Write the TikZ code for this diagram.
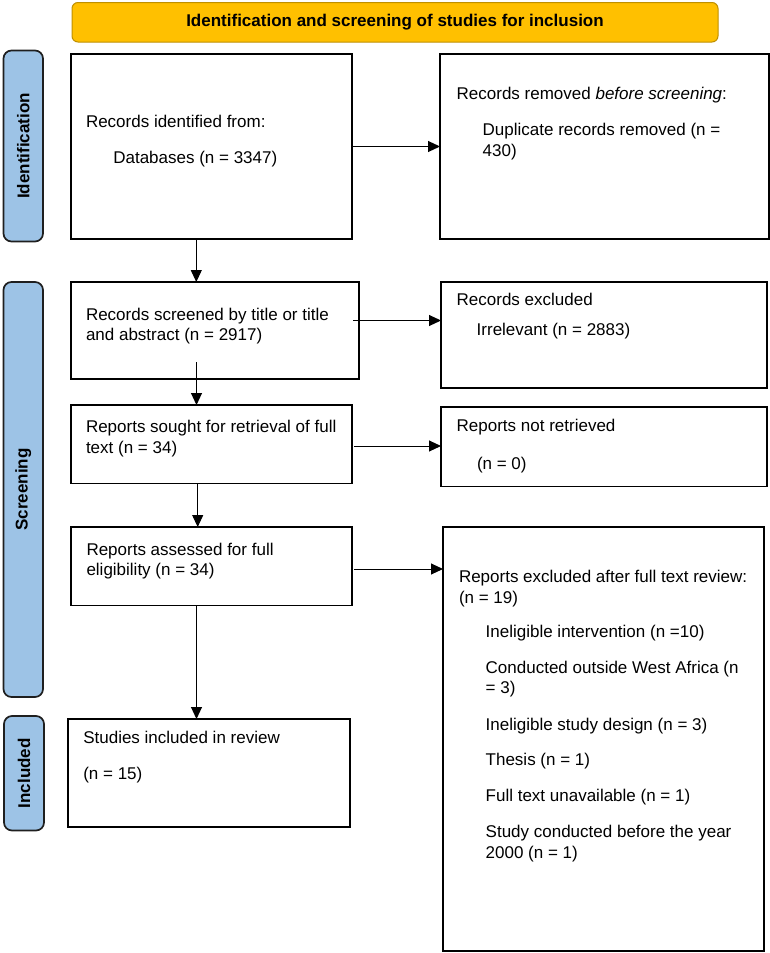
\documentclass[tikz,border=0pt]{standalone}
\usepackage{fontspec}
\setmainfont{Liberation Sans}
\usetikzlibrary{arrows.meta,calc}
\definecolor{bannerfill}{HTML}{FFC000}
\definecolor{bannerdraw}{HTML}{BF9000}
\definecolor{labelfill}{HTML}{9DC3E6}
\definecolor{labeldraw}{HTML}{1F1F1F}
\begin{document}
\begin{tikzpicture}[x=1pt,y=-1pt,
  every node/.style={font=\fontsize{17}{21}\selectfont},
  box/.style={draw=black,line width=1.6pt,fill=white,inner sep=0pt,outer sep=0pt},
  banner/.style={draw=bannerdraw,line width=1pt,fill=bannerfill,rounded corners=6pt,inner sep=0pt,outer sep=0pt,font=\fontsize{17}{21}\selectfont\bfseries},
  phase/.style={draw=labeldraw,line width=1.7pt,fill=labelfill,rounded corners=8pt,inner sep=0pt,outer sep=0pt},
  phasetext/.style={rotate=90,font=\fontsize{17}{21}\selectfont\bfseries,inner sep=0pt},
  txt/.style={anchor=base west,inner sep=0pt,outer sep=0pt},
  arr/.style={draw=black,line width=1pt,-{Triangle[length=12pt,width=11pt]}},
  ]
\useasboundingbox (0,0) rectangle (770,953);

% banner
\node[banner,minimum width=646pt,minimum height=39.5pt] (ban) at (395,22.25) {Identification and screening of studies for inclusion};

% phase labels
\node[phase,minimum width=39.5pt,minimum height=191pt] (idl) at (23.25,146) {};
\node[phasetext] (idt) at (idl.center) {Identification};
\node[phase,minimum width=39.5pt,minimum height=415pt] (scl) at (23.25,489.5) {};
\node[phasetext] (sct) at (scl.center) {Screening};
\node[phase,minimum width=40pt,minimum height=114.5pt] (inl) at (24,773.25) {};
\node[phasetext] (int) at (inl.center) {Included};

% left boxes
\node[box,minimum width=281pt,minimum height=185pt] (b1) at (211.5,146.5) {};
\node[box,minimum width=288pt,minimum height=97pt] (b2) at (215,330.5) {};
\node[box,minimum width=281pt,minimum height=78.5pt] (b3) at (211.5,444.25) {};
\node[box,minimum width=281pt,minimum height=78.5pt] (b4) at (211.5,566.25) {};
\node[box,minimum width=282pt,minimum height=108pt] (b5) at (209,773) {};

% right boxes
\node[box,minimum width=329pt,minimum height=185pt] (r1) at (604.5,146.5) {};
\node[box,minimum width=326pt,minimum height=106pt] (r2) at (604,335) {};
\node[box,minimum width=326pt,minimum height=79.5pt] (r3) at (604,446.75) {};
\node[box,minimum width=321pt,minimum height=424pt] (r4) at (603.5,739) {};

% texts
\node[txt] (t1a) at (86,127.3) {Records identified from:};
\node[txt] (t1b) at (113.3,163.3) {Databases (n = 3347)};

\node[txt] (u1a) at (456.7,99.3) {Records removed \textit{before screening}:};
\node[txt] (u1b) at (482.7,135) {Duplicate records removed (n =};
\node[txt] (u1c) at (482.7,156.7) {430)};

\node[txt] (t2a) at (86,320) {Records screened by title or title};
\node[txt] (t2b) at (86,340) {and abstract (n = 2917)};

\node[txt] (u2a) at (456.7,305.7) {Records excluded};
\node[txt] (u2b) at (476.7,335) {Irrelevant (n = 2883)};

\node[txt] (t3a) at (86,432.7) {Reports sought for retrieval of full};
\node[txt] (t3b) at (86,453) {text (n = 34)};

\node[txt] (u3a) at (456.7,431.7) {Reports not retrieved};
\node[txt] (u3b) at (477,469) {(n = 0)};

\node[txt] (t4a) at (86.5,555) {Reports assessed for full};
\node[txt] (t4b) at (86.5,575.7) {eligibility (n = 34)};

\node[txt] (t5a) at (83.3,743.3) {Studies included in review};
\node[txt] (t5b) at (83.3,779.3) {(n = 15)};

\node[txt] (u4a) at (459,582) {Reports excluded after full text review:};
\node[txt] (u4b) at (459,603) {(n = 19)};
\node[txt] (u4c) at (485.7,637) {Ineligible intervention (n =10)};
\node[txt] (u4d) at (485.7,673) {Conducted outside West Africa (n};
\node[txt] (u4e) at (485.7,693) {= 3)};
\node[txt] (u4f) at (485.7,730) {Ineligible study design (n = 3)};
\node[txt] (u4g) at (485.7,765) {Thesis (n = 1)};
\node[txt] (u4h) at (485.7,801) {Full text unavailable (n = 1)};
\node[txt] (u4i) at (485.7,837) {Study conducted before the year};
\node[txt] (u4j) at (485.7,858) {2000 (n = 1)};

% connectors
\draw[arr] (b1.east) -- (r1.west);
\draw[arr] (b1.south -| 196.3,0) -- (b2.north -| 196.3,0);
\draw[arr] ($(b2.east |- 0,320.5)+(-6,0)$) -- (r2.west |- 0,320.5);
\draw[arr] ($(b2.south -| 196.5,0)+(0,-17)$) -- (b3.north -| 196.5,0);
\draw[arr] ($(b3.east |- 0,446)+(2,0)$) -- (r3.west |- 0,446);
\draw[arr] (b3.south -| 197.7,0) -- (b4.north -| 197.7,0);
\draw[arr] ($(b4.east |- 0,569)+(2,0)$) -- (r4.west |- 0,569);
\draw[arr] (b4.south -| 196.5,0) -- (b5.north -| 196.5,0);
\end{tikzpicture}
\end{document}
